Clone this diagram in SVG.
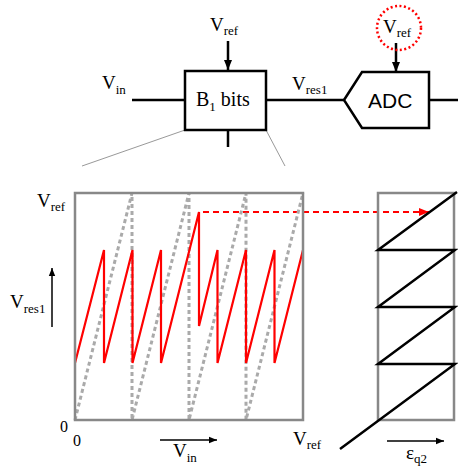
<svg xmlns="http://www.w3.org/2000/svg" width="458" height="466" viewBox="0 0 458 466">
<defs>
<style>
.t{font-family:"Liberation Serif","Times New Roman",serif;font-size:19px;fill:#000}
.s{font-size:13px}
.blk{stroke:#000;stroke-width:2.5;fill:none}
.frame{stroke:#888;stroke-width:2.5;fill:none}
.gd{stroke:#aaa;stroke-width:3;stroke-dasharray:4 3;fill:none}
.red{stroke:#f00;stroke-width:2.2;fill:none}
.thin{stroke:#999;stroke-width:1;fill:none}
.arr{stroke:#000;stroke-width:1.5;fill:none}
</style>
<marker id="ah" viewBox="0 0 10 10" refX="10" refY="5" markerWidth="8" markerHeight="8" markerUnits="userSpaceOnUse" orient="auto"><path d="M0,1 L10,5 L0,9 Z" fill="#000"/></marker>
<marker id="ahb" viewBox="0 0 10 10" refX="10" refY="5" markerWidth="10" markerHeight="10" markerUnits="userSpaceOnUse" orient="auto"><path d="M0,1 L10,5 L0,9 Z" fill="#000"/></marker>
<marker id="ahr" viewBox="0 0 10 10" refX="10" refY="5" markerWidth="10" markerHeight="10" markerUnits="userSpaceOnUse" orient="auto"><path d="M0,1 L10,5 L0,9 Z" fill="#f00"/></marker>
</defs>

<g id="connectors">
<line class="blk" x1="132" y1="100" x2="185" y2="100"/>
<line class="blk" x1="266" y1="100" x2="344" y2="100"/>
<line class="blk" x1="429" y1="100" x2="458" y2="100"/>
<line class="blk" x1="228" y1="41" x2="228" y2="70" marker-end="url(#ahb)"/>
<line class="blk" x1="228" y1="130" x2="228" y2="147"/>
<line class="blk" x1="396" y1="43" x2="396" y2="72" marker-end="url(#ahb)"/>
<line class="thin" x1="185" y1="130" x2="82" y2="166"/>
<line class="thin" x1="266" y1="130" x2="285" y2="166"/>
<line class="red" x1="203" y1="212" x2="429" y2="212" stroke-dasharray="6 4" marker-end="url(#ahr)"/>
</g>

<g id="vin-label"><text class="t" x="102" y="89">V<tspan class="s" dy="5">in</tspan></text></g>
<g id="vref-top"><text class="t" x="210" y="31">V<tspan class="s" dy="4">ref</tspan></text></g>
<g id="vres1-label"><text class="t" x="292" y="90">V<tspan class="s" dy="4">res1</tspan></text></g>

<g id="b1-block">
<rect class="blk" x="185" y="71" width="81" height="59" fill="#fff"/>
<text class="t" x="196" y="106" style="font-size:20px">B<tspan class="s" dy="5">1</tspan><tspan dy="-5"> bits</tspan></text>
</g>

<g id="adc-block">
<path class="blk" d="M344,100 L362,72 L429,72 L429,128 L362,128 Z" fill="#fff"/>
<text x="368" y="108" style="font-family:'Liberation Sans',Arial,sans-serif;font-size:21px">ADC</text>
</g>

<g id="vref-adc">
<circle cx="399" cy="28" r="22" fill="none" stroke="#f00" stroke-width="2.5" stroke-dasharray="2 2.5"/>
<text class="t" x="383" y="33">V<tspan class="s" dy="4">ref</tspan></text>
</g>

<g id="residue-plot">
<polyline class="gd" points="75,420 132,193 132,420 189,193 189,420 246,193 246,420 303,193"/>
<polyline class="red" points="75,363 104,250 104,363 132.5,250 132.5,363 161,250 161,363 199,212 199,326 217.5,250 217.5,363 246,250 246,363 274.5,250 274.5,363 303,250"/>
<rect class="frame" x="75" y="193" width="228" height="227"/>
<text class="t" x="37" y="207">V<tspan class="s" dy="4">ref</tspan></text>
<text class="t" x="10" y="308">V<tspan class="s" dy="5">res1</tspan></text>
<line class="arr" x1="52" y1="327" x2="52" y2="268" marker-end="url(#ah)"/>
<text class="t" x="60" y="432" style="font-size:16px">0</text>
<text class="t" x="73" y="446" style="font-size:16px">0</text>
<text class="t" x="293" y="445">V<tspan class="s" dy="4">ref</tspan></text>
<line class="arr" x1="160" y1="440" x2="217" y2="440" marker-end="url(#ah)"/>
<text class="t" x="173" y="457">V<tspan class="s" dy="5">in</tspan></text>
</g>

<g id="adc-error-plot">
<rect class="frame" x="378" y="193" width="76" height="227"/>
<polyline class="blk" points="457,192 378,250 455,250 378,307 455,307 378,364 455,364 340,449"/>
<line class="arr" x1="387" y1="441" x2="444" y2="441" marker-end="url(#ah)"/>
<text class="t" x="406" y="459">ε<tspan class="s" dy="4">q2</tspan></text>
</g>
</svg>
